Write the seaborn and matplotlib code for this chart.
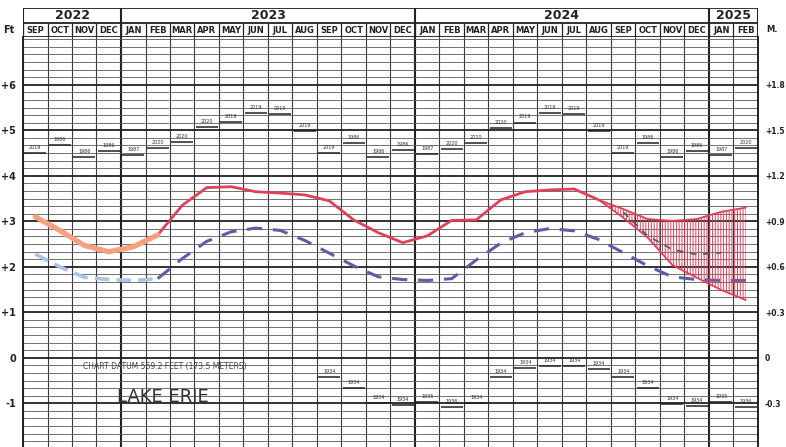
"""Lake Erie monthly water levels, Sep 2022 - Feb 2025 (recreated chart)."""

import matplotlib

matplotlib.use("Agg")

import matplotlib.pyplot as plt
import numpy as np
import seaborn as sns

# ---- data --------------------------------------------------------------
YEARS = ["2022", "2023", "2024", "2025"]
YEAR_SPANS = [4, 12, 12, 2]
MONTHS = [
    "SEP", "OCT", "NOV", "DEC",
    "JAN", "FEB", "MAR", "APR", "MAY", "JUN", "JUL", "AUG", "SEP", "OCT", "NOV", "DEC",
    "JAN", "FEB", "MAR", "APR", "MAY", "JUN", "JUL", "AUG", "SEP", "OCT", "NOV", "DEC",
    "JAN", "FEB",
]

FEET_TICKS = [-1, 0, 1, 2, 3, 4, 5, 6]
FEET_LABELS = ["-1", "0", "+1", "+2", "+3", "+4", "+5", "+6"]
METER_LABELS = ["-0.3", "0", "+0.3", "+0.6", "+0.9", "+1.2", "+1.5", "+1.8"]

# recorded levels, feet above chart datum, Sep 2022 - Aug 2024
RECORDED = [
    3.10, 2.80, 2.47, 2.33, 2.44, 2.70, 3.35, 3.74, 3.76, 3.65, 3.62, 3.58,
    3.45, 3.03, 2.75, 2.53, 2.68, 3.02, 3.03, 3.47, 3.65, 3.69, 3.71, 3.47,
]
# long term average, Sep 2022 - Feb 2025
LONG_TERM_AVG = [
    2.28, 2.00, 1.77, 1.72, 1.70, 1.74, 2.18, 2.56, 2.77, 2.85, 2.80, 2.58,
    2.30, 2.02, 1.78, 1.72, 1.70, 1.74, 2.15, 2.52, 2.75, 2.84, 2.79, 2.60,
    2.31, 2.02, 1.78, 1.72, 1.70, 1.70,
]
# six month forecast, Sep 2024 - Feb 2025
FORECAST_UPPER = [3.27, 3.05, 3.01, 3.05, 3.21, 3.30]
FORECAST_LOWER = [3.08, 2.64, 2.04, 1.76, 1.49, 1.27]
FORECAST_MID = [3.20, 2.68, 2.38, 2.27, 2.31]

RECORD_HIGH = [
    4.49, 4.67, 4.41, 4.54,
    4.45, 4.60, 4.74, 5.07, 5.18, 5.37, 5.35, 4.98, 4.49, 4.71, 4.41, 4.56,
    4.47, 4.58, 4.71, 5.04, 5.17, 5.37, 5.35, 4.98, 4.49, 4.71, 4.41, 4.54,
    4.45, 4.60,
]
RECORD_HIGH_YEAR = [
    "2019", "1986", "1986", "1986",
    "1987", "2020", "2020", "2020", "2019", "2019", "2019", "2019", "2019", "1986", "1986", "1986",
    "1987", "2020", "2020", "2020", "2019", "2019", "2019", "2019", "2019", "1986", "1986", "1986",
    "1987", "2020",
]
# record lows are only drawn from Sep 2023 onwards
RECORD_LOW_START = 12
RECORD_LOW = [
    -0.42, -0.67, -1.00, -1.04,
    -0.98, -1.09, -1.00, -0.42, -0.22, -0.18, -0.18, -0.24, -0.42, -0.67, -1.02, -1.06,
    -0.98, -1.09,
]
RECORD_LOW_YEAR = [
    "1934", "1934", "1934", "1934",
    "1935", "1936", "1934", "1934", "1934", "1934", "1934", "1934", "1934", "1934", "1934", "1934",
    "1935", "1936",
]

RED = "#e2405a"
ORANGE = "#f3a27e"
BLUE = "#5a5ea8"
LIGHT_BLUE = "#a9c4e8"
INK = "#222222"

W, H = 786, 447


def setup_style() -> None:
    sns.set_style("white")
    plt.rcParams["font.family"] = ["DejaVu Sans"]
    plt.rcParams["hatch.linewidth"] = 0.7


def draw_header(fig: plt.Figure) -> None:
    hax = fig.add_axes([23 / W, 410 / H, 735 / W, 29 / H])
    hax.set_xlim(0, len(MONTHS))
    hax.set_ylim(0, 2)
    hax.axis("off")
    bounds = np.concatenate([[0], np.cumsum(YEAR_SPANS)])
    hax.hlines([0, 1, 2], 0, len(MONTHS), color=INK, lw=1.3)
    hax.vlines(np.arange(len(MONTHS) + 1), 0, 1, color=INK, lw=0.9)
    hax.vlines(bounds, 0, 2, color=INK, lw=1.5)
    for year, left, right in zip(YEARS, bounds[:-1], bounds[1:]):
        hax.text((left + right) / 2, 1.5, year, ha="center", va="center",
                 fontsize=9, fontweight="bold", color=INK)
    for i, month in enumerate(MONTHS):
        hax.text(i + 0.5, 0.48, month, ha="center", va="center", fontsize=6,
                 fontweight="bold", color=INK,
                 family=["Liberation Sans Narrow", "DejaVu Sans"])
    fig.text(9 / W, 1 - 30 / H, "Ft", ha="center", va="center",
             fontsize=7, fontweight="bold", color=INK)
    fig.text(772 / W, 1 - 30 / H, "M.", ha="center", va="center",
             fontsize=6, fontweight="bold", color=INK)


def draw_grid(ax: plt.Axes) -> None:
    n = len(MONTHS)
    ax.set_xlim(0, n)
    ax.set_ylim(-1.96, 7.05)
    ax.set_xticks(np.cumsum(YEAR_SPANS)[:-1])
    ax.set_xticks(np.arange(n + 1), minor=True)
    ax.set_xticklabels([])
    ax.set_yticks(FEET_TICKS, FEET_LABELS)
    # chart paper ruled every 2 inches
    ax.set_yticks(np.arange(-11, 43) / 6, minor=True)
    ax.tick_params(which="both", length=0)
    ax.tick_params(axis="y", pad=5, labelsize=7, labelcolor=INK)
    for label in ax.get_yticklabels():
        label.set_fontweight("bold")
    ax.grid(which="minor", axis="y", color="#5a5a5a", lw=0.6)
    ax.grid(which="major", axis="y", color=INK, lw=1.3)
    ax.grid(which="minor", axis="x", color="#3a3a3a", lw=0.8)
    ax.grid(which="major", axis="x", color=INK, lw=1.5)
    for side in ["left", "right"]:
        ax.spines[side].set_color(INK)
        ax.spines[side].set_linewidth(1.4)
    ax.spines["top"].set_visible(False)
    ax.spines["bottom"].set_visible(False)

    right = ax.twinx()
    right.set_ylim(ax.get_ylim())
    right.set_yticks(FEET_TICKS, METER_LABELS)
    right.tick_params(length=0, pad=5, labelsize=5.5, labelcolor=INK)
    for label in right.get_yticklabels():
        label.set_fontweight("bold")
    for spine in right.spines.values():
        spine.set_visible(False)


def draw_records(ax: plt.Axes) -> None:
    pos = np.arange(len(MONTHS))
    low_pos = pos[RECORD_LOW_START:]
    for xs, levels, years in [(pos, RECORD_HIGH, RECORD_HIGH_YEAR),
                              (low_pos, RECORD_LOW, RECORD_LOW_YEAR)]:
        ax.hlines(levels, xs + 0.06, xs + 0.94, color=INK, lw=1.1, zorder=3)
        for x, level, year in zip(xs, levels, years):
            ax.text(x + 0.5, level + 0.07, year, ha="center", va="bottom",
                    fontsize=3.5, color="#333333", zorder=3)


def draw_levels(ax: plt.Axes) -> None:
    mid = np.arange(len(MONTHS)) + 0.5
    obs_x = mid[: len(RECORDED)]

    # long term average
    sns.lineplot(x=mid[5:], y=LONG_TERM_AVG[5:], ax=ax, color=BLUE, lw=2.2,
                 linestyle=(0, (5, 3.5)), zorder=4)
    sns.lineplot(x=mid[:6], y=LONG_TERM_AVG[:6], ax=ax, color=LIGHT_BLUE, lw=2.6,
                 linestyle=(0, (4, 2)), zorder=4)

    # recorded levels
    sns.lineplot(x=obs_x[5:], y=RECORDED[5:], ax=ax, color=RED, lw=2.0, zorder=5)
    sns.lineplot(x=obs_x[:6], y=RECORDED[:6], ax=ax, color=ORANGE, lw=3.8, zorder=5)

    # forecast band
    fx = np.concatenate([[obs_x[-1]], mid[len(RECORDED):]])
    upper = [RECORDED[-1]] + FORECAST_UPPER
    lower = [RECORDED[-1]] + FORECAST_LOWER
    ax.fill_between(fx, lower, upper, facecolor="none", edgecolor=RED,
                    hatch="||||||", lw=0, zorder=4)
    sns.lineplot(x=fx, y=upper, ax=ax, color=RED, lw=1.3, zorder=5)
    sns.lineplot(x=fx, y=lower, ax=ax, color=RED, lw=1.3, zorder=5)
    sns.lineplot(x=mid[len(RECORDED):len(RECORDED) + len(FORECAST_MID)], y=FORECAST_MID,
                 ax=ax, color="#4d5a52", lw=1.2, linestyle=(0, (4, 4)), zorder=5)


def draw_labels(ax: plt.Axes) -> None:
    ax.text(5.8, -0.18, "CHART DATUM 569.2 FEET (173.5 METERS)", ha="center",
            va="center", fontsize=5.5, color="#444444",
            family=["Liberation Sans Narrow", "DejaVu Sans"], zorder=6)
    ax.text(5.7, -0.86, "LAKE ERIE", ha="center", va="center", fontsize=13,
            color="#333333", family=["Liberation Sans Narrow", "DejaVu Sans"], zorder=6)


def main() -> None:
    setup_style()
    fig = plt.figure(figsize=(W / 100, H / 100), dpi=100)
    ax = fig.add_axes([23 / W, 0, 735 / W, 410 / H])
    draw_grid(ax)
    draw_records(ax)
    draw_levels(ax)
    draw_labels(ax)
    draw_header(fig)
    fig.savefig("out.png", dpi=100, facecolor="white")
    plt.close(fig)


if __name__ == "__main__":
    main()
